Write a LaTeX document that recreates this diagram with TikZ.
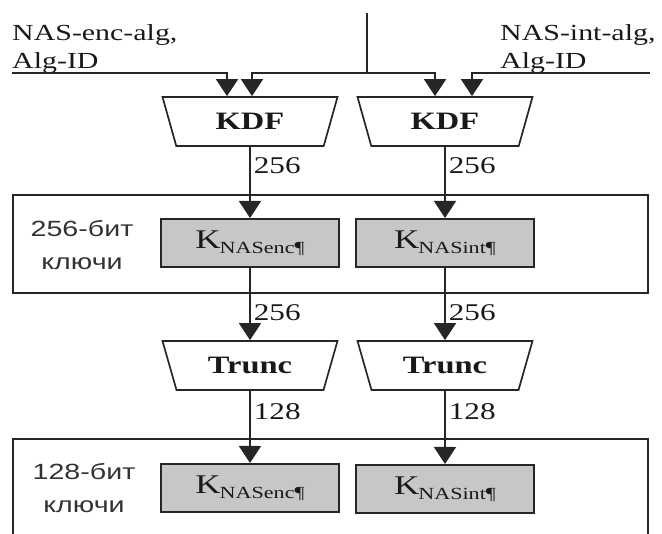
\documentclass[tikz,border=0pt]{standalone}
\usepackage{fontspec}
\setmainfont{Liberation Serif}[FakeStretch=1.3]
\setsansfont{Liberation Sans}[FakeStretch=1.3]
\usetikzlibrary{arrows.meta, shapes.geometric, calc}

\begin{document}
\begin{tikzpicture}[
    x=1pt, y=-1pt,
    arr/.style={-{Triangle[width=22pt,length=17pt]}}, % filled arrow heads
    line/.style={draw=black!85, line width=1.7pt},
    func/.style={trapezium, trapezium angle=50, shape border rotate=180,
        trapezium stretches body=true, draw=black!85, line width=1.7pt,
        minimum width=175pt, minimum height=49pt, inner sep=0pt,
        font=\fontsize{25}{25}\selectfont\bfseries, text=black!90},
    keybox/.style={rectangle, draw=black!85, line width=2pt, fill=black!22,
        minimum width=178pt, minimum height=48pt, inner sep=0pt, text=black!90},
    frame/.style={draw=black!85, line width=1.7pt},
    bits/.style={font=\fontsize{24}{24}\selectfont, text=black!90, inner sep=3pt},
    tag/.style={font=\sffamily\fontsize{22}{33}\selectfont, align=center, text=black!80},
    param/.style={font=\fontsize{23}{28}\selectfont, align=left, text=black!90,
        inner sep=0pt, anchor=north west}
]

\useasboundingbox (0,0) rectangle (662,534);

% Key name with lowered index
\def\keyname#1{{\fontsize{27}{27}\selectfont K}\kern-1pt\raisebox{-5pt}{\fontsize{17}{17}\selectfont NAS#1¶}}

% Inputs
\node[param] (encparam) at (12,24) {NAS-enc-alg,\\Alg-ID};
\node[param] (intparam) at (500,24) {NAS-int-alg,\\Alg-ID};
\coordinate (encsrc) at (12,73);
\coordinate (intsrc) at (650,73);
\coordinate (keysrc) at (367,13);
\coordinate (keyjoin) at (367,73);

% KDF blocks
\node[func] (kdfenc) at (250,121.5) {KDF};
\node[func] (kdfint) at (445,121.5) {KDF};

\draw[line,arr] (encsrc) -| ([xshift=-23pt]kdfenc.north);
\draw[line,arr] (intsrc) -| ([xshift=27pt]kdfint.north);
\draw[line] (keysrc) -- (keyjoin);
\draw[line,arr] (keyjoin) -| ([xshift=2pt]kdfenc.north);
\draw[line,arr] (keyjoin) -| ([xshift=-10pt]kdfint.north);

% 256-bit keys
\node[frame, minimum width=635pt, minimum height=98pt] (keys256) at (330.5,244) {};
\node[tag] (tag256) at (82,245) {256-бит\\ключи};
\node[keybox] (keyenc256) at (250,243) {\keyname{enc}};
\node[keybox] (keyint256) at (445,243) {\keyname{int}};

\draw[line,arr] (kdfenc.south) -- (keyenc256.north) node[bits, pos=0.27, anchor=west] (bitsa) {256};
\draw[line,arr] (kdfint.south) -- (keyint256.north) node[bits, pos=0.27, anchor=west] (bitsb) {256};

% Trunc blocks
\node[func] (truncenc) at (250,365.5) {Trunc};
\node[func] (truncint) at (445,365.5) {Trunc};

\draw[line,arr] (keyenc256.south) -- (truncenc.north) node[bits, pos=0.62, anchor=west] (bitsc) {256};
\draw[line,arr] (keyint256.south) -- (truncint.north) node[bits, pos=0.62, anchor=west] (bitsd) {256};

% 128-bit keys
\draw[frame] (13,534) |- (648,439) -- (648,534);
\node[tag] (tag128) at (84,488) {128-бит\\ключи};
\node[keybox] (keyenc128) at (250,488) {\keyname{enc}};
\node[keybox] (keyint128) at (445,489) {\keyname{int}};

\draw[line,arr] (truncenc.south) -- (keyenc128.north) node[bits, pos=0.29, anchor=west] (bitse) {128};
\draw[line,arr] (truncint.south) -- (keyint128.north) node[bits, pos=0.29, anchor=west] (bitsf) {128};

\end{tikzpicture}
\end{document}
